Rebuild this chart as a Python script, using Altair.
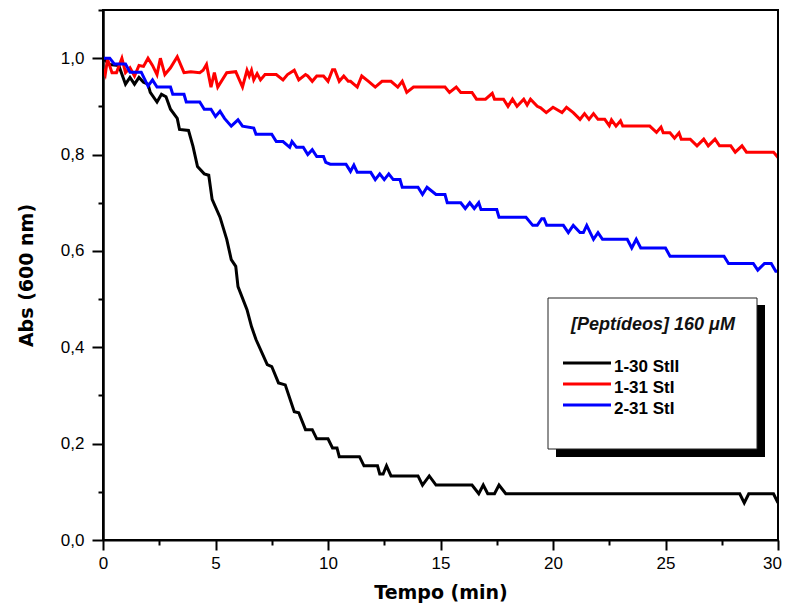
import altair as alt
import pandas as pd

# ---------------- data ----------------
series_names = ["1-30 StII", "1-31 StI", "2-31 StI"]
series_colors = ["#000000", "#ff0000", "#0000ff"]

black_t = [0, 0.3, 0.7, 1.0, 1.2, 1.4, 1.6, 1.8, 2.0, 2.1, 2.4, 2.6, 2.8, 3.0, 3.3, 3.4,
           3.8, 4.0, 4.2, 4.5, 4.7, 4.85, 5.2, 5.5, 5.7, 5.9, 6.0, 6.4, 6.6, 6.8, 7.3,
           7.5, 7.8, 8.1, 8.5, 8.7, 9.0, 9.3, 9.5, 10.0, 10.2, 10.4, 10.5, 11.4, 11.6,
           12.2, 12.3, 12.45, 12.6, 12.8, 14.0, 14.2, 14.5, 14.8, 16.4, 16.7, 16.9,
           17.1, 17.4, 17.6, 17.9, 28.3, 28.5, 28.7, 29.8, 30.0]
black_a = [1.0, 0.987, 0.985, 0.946, 0.96, 0.946, 0.96, 0.95, 0.946, 0.929, 0.909, 0.925,
           0.92, 0.894, 0.875, 0.852, 0.85, 0.817, 0.775, 0.76, 0.757, 0.707, 0.67,
           0.624, 0.582, 0.568, 0.526, 0.478, 0.443, 0.416, 0.364, 0.36, 0.326, 0.322,
           0.266, 0.264, 0.229, 0.229, 0.21, 0.21, 0.191, 0.191, 0.173, 0.173, 0.154,
           0.154, 0.137, 0.137, 0.154, 0.133, 0.133, 0.114, 0.133, 0.114, 0.114, 0.096,
           0.114, 0.096, 0.096, 0.114, 0.096, 0.096, 0.077, 0.096, 0.096, 0.077]

red_t = [0, 0.1, 0.2, 0.4, 0.6, 0.84, 1.0, 1.2, 1.4, 1.6, 1.8, 2.0, 2.2, 2.4, 2.55, 2.75,
         3.0, 3.3, 3.6, 3.9, 4.3, 4.45, 4.6, 4.8, 4.95, 5.1, 5.5, 5.9, 6.2, 6.4, 6.5,
         6.6, 6.7, 6.85, 7.0, 7.2, 7.7, 8.0, 8.2, 8.5, 8.7, 9.0, 9.1, 9.3, 9.5, 9.8,
         10.0, 10.2, 10.3, 10.5, 10.7, 10.9, 11.0, 11.3, 11.5, 11.8, 12.1, 12.4, 12.8,
         13.1, 13.3, 13.5, 13.8, 15.2, 15.4, 15.7, 15.9, 16.4, 16.6, 17.0, 17.3, 17.4,
         17.8, 18.0, 18.2, 18.4, 18.7, 18.85, 19.0, 19.3, 19.45, 19.7, 20.0, 20.4, 20.6,
         20.9, 21.2, 21.4, 21.6, 21.8, 22.0, 22.3, 22.5, 22.6, 22.8, 23.0, 23.1, 24.3,
         24.6, 24.8, 24.9, 25.2, 25.4, 25.6, 25.7, 26.1, 26.4, 26.7, 26.9, 27.2, 27.4,
         27.9, 28.1, 28.4, 28.6, 29.8, 30.0]
red_a = [0.977, 0.966, 0.998, 0.97, 0.97, 1.0, 0.97, 0.98, 0.963, 0.985, 0.983, 1.0,
         0.985, 0.966, 1.0, 0.966, 0.98, 1.003, 0.97, 0.972, 0.97, 0.975, 0.987, 0.94,
         0.97, 0.94, 0.97, 0.972, 0.94, 0.975, 0.963, 0.975, 0.955, 0.968, 0.955, 0.966,
         0.966, 0.955, 0.966, 0.975, 0.955, 0.966, 0.963, 0.952, 0.963, 0.963, 0.952,
         0.976, 0.976, 0.952, 0.963, 0.952, 0.952, 0.94, 0.963, 0.952, 0.94, 0.952,
         0.952, 0.94, 0.952, 0.929, 0.94, 0.94, 0.929, 0.94, 0.929, 0.929, 0.915, 0.915,
         0.927, 0.915, 0.915, 0.9, 0.915, 0.9, 0.915, 0.903, 0.915, 0.9, 0.897, 0.887,
         0.898, 0.887, 0.898, 0.887, 0.873, 0.885, 0.873, 0.885, 0.873, 0.873, 0.86,
         0.872, 0.859, 0.87, 0.859, 0.859, 0.846, 0.857, 0.845, 0.845, 0.834, 0.845,
         0.832, 0.832, 0.818, 0.832, 0.818, 0.832, 0.818, 0.818, 0.805, 0.818, 0.805,
         0.805, 0.794]

blue_t = [0, 0.3, 0.5, 1.0, 1.2, 1.7, 2.0, 2.2, 2.4, 3.0, 3.1, 3.6, 3.7, 4.3, 4.5, 4.8,
          5.0, 5.2, 5.4, 5.7, 6.0, 6.2, 6.7, 6.8, 7.5, 7.7, 8.0, 8.3, 8.4, 8.6, 8.9, 9.1,
          9.3, 9.5, 9.8, 9.9, 10.1, 10.8, 11.0, 11.15, 11.3, 11.9, 12.1, 12.3, 12.5,
          12.7, 12.9, 13.2, 13.3, 14.0, 14.2, 14.4, 14.8, 15.2, 15.3, 15.9, 16.1, 16.3,
          16.5, 16.7, 16.8, 17.5, 17.6, 18.8, 19.1, 19.3, 19.5, 19.6, 19.72, 20.46,
          20.68, 20.9, 21.2, 21.35, 21.5, 21.8, 22.0, 22.2, 23.3, 23.5, 23.7, 23.9,
          25.0, 25.2, 27.6, 27.8, 28.9, 29.1, 29.4, 29.7, 29.9, 30.0]
blue_a = [1.0, 1.0, 0.988, 0.988, 0.971, 0.971, 0.942, 0.955, 0.94, 0.94, 0.925, 0.925,
          0.909, 0.909, 0.894, 0.894, 0.879, 0.89, 0.875, 0.859, 0.872, 0.859, 0.855,
          0.842, 0.842, 0.827, 0.827, 0.815, 0.827, 0.815, 0.815, 0.8, 0.81, 0.796,
          0.796, 0.784, 0.78, 0.78, 0.765, 0.778, 0.763, 0.763, 0.748, 0.76, 0.748,
          0.76, 0.748, 0.748, 0.732, 0.732, 0.717, 0.732, 0.717, 0.717, 0.7, 0.7, 0.688,
          0.7, 0.688, 0.7, 0.686, 0.686, 0.67, 0.67, 0.653, 0.653, 0.667, 0.667, 0.653,
          0.653, 0.638, 0.653, 0.638, 0.638, 0.653, 0.624, 0.638, 0.624, 0.624, 0.606,
          0.624, 0.606, 0.606, 0.589, 0.589, 0.574, 0.574, 0.56, 0.574, 0.574, 0.558,
          0.558]

x_major_ticks = [0, 5, 10, 15, 20, 25, 30]
x_minor_ticks = [2.5, 7.5, 12.5, 17.5, 22.5, 27.5]
y_major_ticks = [0.0, 0.2, 0.4, 0.6, 0.8, 1.0]
y_minor_ticks = [0.1, 0.3, 0.5, 0.7, 0.9, 1.1]

legend_title = "[Peptídeos] 160 μM"
x_title = "Tempo (min)"
y_title = "Abs (600 nm)"

# ---------------- build table ----------------
frames = []
for name, ts, vals in zip(series_names, [black_t, red_t, blue_t], [black_a, red_a, blue_a]):
    frames.append(pd.DataFrame({"t": ts, "a": vals, "s": name}))
df = pd.concat(frames, ignore_index=True)

LABEL_FONT = "Liberation Sans"
TITLE_FONT = "DejaVu Sans"

x_scale = alt.Scale(domain=[0, 30], nice=False, zero=False)
y_scale = alt.Scale(domain=[0, 1.1], nice=False)

x_major = alt.Axis(values=x_major_ticks, orient="bottom", format="d", grid=False,
                   tickSize=10, tickWidth=2, tickColor="black",
                   domainWidth=2, domainColor="black", labelFlush=False,
                   labelOffset=alt.ConditionalAxisNumber(
                       condition={"test": "datum.value >= 30", "value": -6}, value=0),
                   labelFont=LABEL_FONT, labelFontSize=17, labelColor="black", labelPadding=5,
                   title=x_title, titleFont=TITLE_FONT, titleFontSize=19, titleFontWeight="bold",
                   titleColor="black", titleBaseline="alphabetic", titleY=58)
x_minor = alt.Axis(values=x_minor_ticks, orient="bottom", labels=False, domain=False, grid=False,
                   tickSize=5, tickWidth=2, tickColor="black", title="")
y_major = alt.Axis(values=y_major_ticks, orient="left", grid=False,
                   labelExpr="replace(format(datum.value, '.1f'), '.', ',')",
                   tickSize=11, tickWidth=2, tickColor="black",
                   domainWidth=2.5, domainColor="black", labelFlush=False,
                   labelFont=LABEL_FONT, labelFontSize=17, labelColor="black", labelPadding=8,
                   title=y_title, titleFont=TITLE_FONT, titleFontSize=19, titleFontWeight="bold",
                   titleColor="black", titleBaseline="alphabetic", titleAlign="center",
                   titleAngle=270, titleX=-71, titleY=265)
y_minor = alt.Axis(values=y_minor_ticks, orient="left", labels=False, domain=False, grid=False,
                   tickSize=5, tickWidth=2, tickColor="black", title="")

lines = alt.Chart(df).mark_line(strokeWidth=3, clip=True).encode(
    x=alt.X("t:Q", scale=x_scale, axis=x_major),
    y=alt.Y("a:Q", scale=y_scale, axis=y_major),
    color=alt.Color("s:N", scale=alt.Scale(domain=series_names, range=series_colors), legend=None),
    detail="s:N",
)

minor = alt.Chart(df).mark_line(opacity=0).encode(
    x=alt.X("t:Q", scale=x_scale, axis=x_minor),
    y=alt.Y("a:Q", scale=y_scale, axis=y_minor),
    detail="s:N",
)

one = pd.DataFrame({"k": [0]})
shadow = alt.Chart(one).mark_rect(color="black").encode(
    x=alt.value(453), x2=alt.value(662), y=alt.value(295), y2=alt.value(447))
box = alt.Chart(one).mark_rect(fill="white", stroke="#222222", strokeWidth=1).encode(
    x=alt.value(445), x2=alt.value(654), y=alt.value(288), y2=alt.value(439))
ltitle = alt.Chart(one).mark_text(font=LABEL_FONT, fontSize=18, fontStyle="italic",
                                  fontWeight="bold", align="center", baseline="alphabetic",
                                  color="#111111").encode(
    x=alt.value(550), y=alt.value(320), text=alt.value(legend_title))

layers = [lines, minor, shadow, box, ltitle]
for i, (name, col) in enumerate(zip(series_names, series_colors)):
    layers.append(alt.Chart(one).mark_rule(color=col, strokeWidth=3).encode(
        x=alt.value(460), x2=alt.value(508), y=alt.value(353 + 21 * i)))
    layers.append(alt.Chart(one).mark_text(font=LABEL_FONT, fontSize=17, fontWeight="bold",
                                           align="left", baseline="alphabetic",
                                           color="black").encode(
        x=alt.value(511), y=alt.value(362 + 21 * i), text=alt.value(name)))

# black frame drawn on top of everything (left, right, top, bottom)
frame = alt.Chart(one).mark_rect(fill="transparent", stroke="black", strokeWidth=2).encode(
    x=alt.value(0), x2=alt.value(675), y=alt.value(0), y2=alt.value(530))
layers.append(frame)

chart = alt.layer(*layers).resolve_axis(x="independent", y="independent").properties(
    width=675, height=530,
    padding={"left": 95, "top": 2, "right": 4, "bottom": 64},
    autosize=alt.AutoSizeParams(type="none"),
).configure_view(stroke="black", strokeWidth=2).configure(background="white")

chart.save("out.html", embed_options={"renderer": "svg", "actions": False})
